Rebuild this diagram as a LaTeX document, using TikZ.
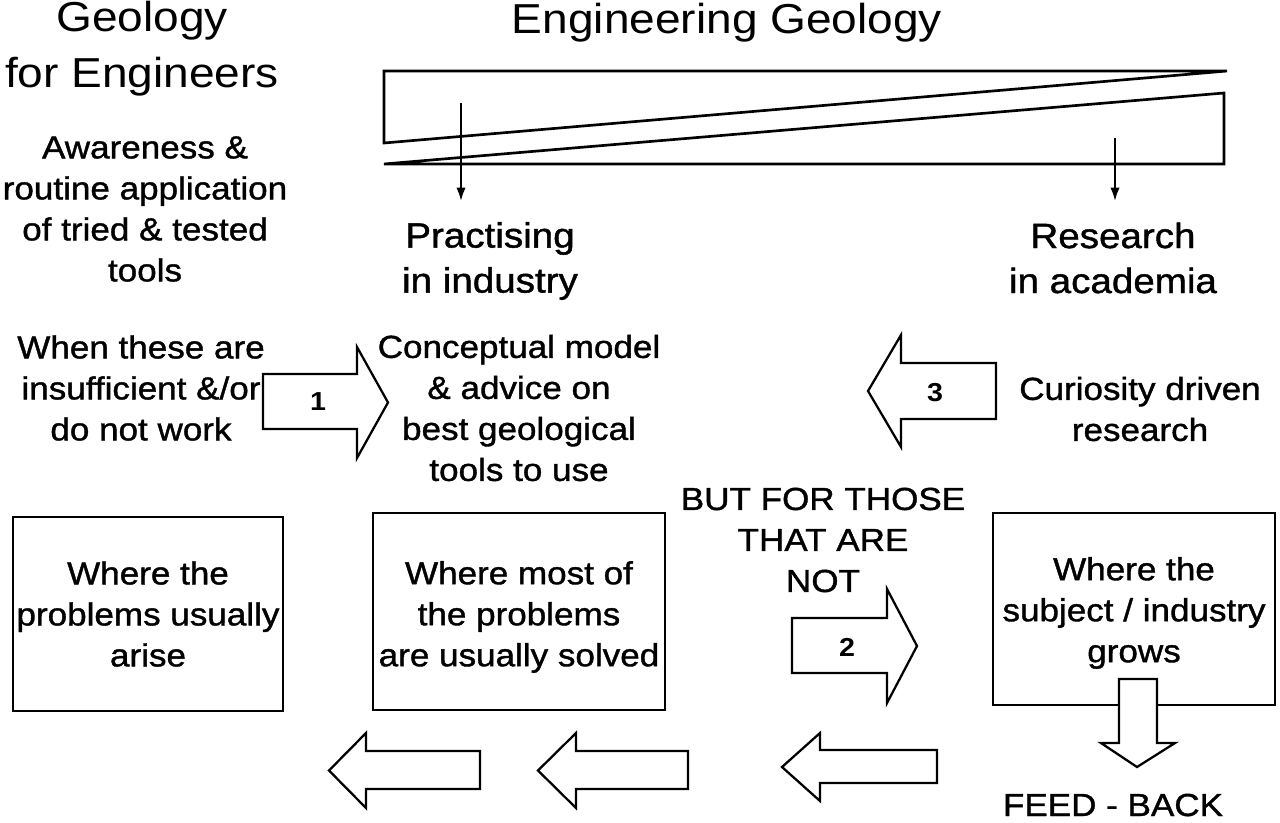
\documentclass[tikz,border=0pt]{standalone}
\usepackage{fontspec}
\setmainfont{Liberation Sans}[FakeStretch=1.1]
\newfontfamily\heavyfont{Liberation Sans}[FakeStretch=1.1,FakeBold=1.2]
\usetikzlibrary{arrows.meta}
\begin{document}
\begin{tikzpicture}[x=0.75pt,y=-0.75pt,
  ln/.style={line width=1.7pt, line join=miter},
  txt/.style={align=center, inner sep=0pt, font=\heavyfont\fontsize{23.9}{30.75}\selectfont},
  ttl/.style={align=center, inner sep=0pt, font=\fontsize{31.4}{42}\selectfont},
  sub/.style={align=center, inner sep=0pt, font=\heavyfont\fontsize{26.3}{33.75}\selectfont},
  num/.style={inner sep=0pt, font=\fontsize{19.5}{22}\selectfont\bfseries},
  box/.style={ln, draw, fill=white, inner sep=0pt},
  barrow/.style={ln, draw, fill=white},
  thin/.style={line width=1.5pt, -{Latex[length=10pt,width=7pt]}}
]
\useasboundingbox (0,0) rectangle (1280,823);

% titles
\node[ttl] (gfe) at (142,49) {Geology\\for Engineers};
\node[ttl, anchor=base] (eg) at (727,34) {Engineering Geology};

% wedge
\draw[ln, line width=2pt] (1227,71) -- (384,71) -- (384,143) -- cycle;
\draw[ln, line width=2pt] (384,164) -- (1224,93) -- (1224,164) -- cycle;

% side texts
\node[txt] (aware) at (145,209) {Awareness \&\\routine application\\of tried \& tested\\tools};
\node[sub] (prac) at (490,261) {Practising\\in industry};
\node[sub] (res) at (1113,258) {Research\\in academia};

\coordinate (pa) at (461,103);
\coordinate (pb) at (461,201);
\coordinate (ra) at (1115,138);
\coordinate (rb) at (1115,201);
\draw[thin] (pa) -- (pb);
\draw[thin] (ra) -- (rb);

\node[txt] (when) at (141,388) {When these are\\insufficient \&/or\\do not work};
\node[txt] (concept) at (519,408) {Conceptual model\\\& advice on\\best geological\\tools to use};
\node[txt] (curious) at (1140,409) {Curiosity driven\\research};
\node[txt] (butfor) at (823,540) {BUT FOR THOSE\\THAT ARE\\NOT};

% boxes
\node[box, minimum width=202.5pt, minimum height=145.5pt] (b1) at (148,614) {};
\node[txt] (t1) at (148,614) {Where the\\problems usually\\arise};
\node[box, minimum width=219pt, minimum height=147.75pt] (b2) at (519,611.5) {};
\node[txt] (t2) at (519,617) {Where most of\\the problems\\are usually solved};
\node[box, minimum width=211.5pt, minimum height=144pt] (b3) at (1134,609) {};
\node[txt] (t3) at (1134,613) {Where the\\subject / industry\\grows};

% block arrow 1 (right)
\draw[barrow] (263,374) -- (357,374) -- (357,347) -- (388,402.5) -- (357,458) -- (357,429) -- (263,429) -- cycle;
\node[num] (n1) at (318,402) {1};
% block arrow 3 (left)
\draw[barrow] (996,363) -- (901,363) -- (901,335) -- (868,391) -- (901,447) -- (901,419) -- (996,419) -- cycle;
\node[num] (n3) at (935,393) {3};
% block arrow 2 (right)
\draw[barrow] (792,618) -- (887,618) -- (887,589) -- (917,646) -- (887,703) -- (887,673) -- (792,673) -- cycle;
\node[num] (n2) at (847,647) {2};

% bottom left arrows
\draw[barrow] (480,751) -- (366,751) -- (366,733) -- (329,770.5) -- (366,808) -- (366,789) -- (480,789) -- cycle;
\draw[barrow] (688,751) -- (576,751) -- (576,733) -- (538,770.5) -- (576,808) -- (576,789) -- (688,789) -- cycle;
\draw[barrow] (937,750) -- (820,750) -- (820,733) -- (782,767) -- (820,801) -- (820,783) -- (937,783) -- cycle;

% feed-back arrow
\draw[barrow] (1119,679) -- (1157,679) -- (1157,743) -- (1175,743) -- (1137,767) -- (1101,743) -- (1119,743) -- cycle;
\node[txt, anchor=base] (fb) at (1113,816) {FEED - BACK};
\end{tikzpicture}
\end{document}
